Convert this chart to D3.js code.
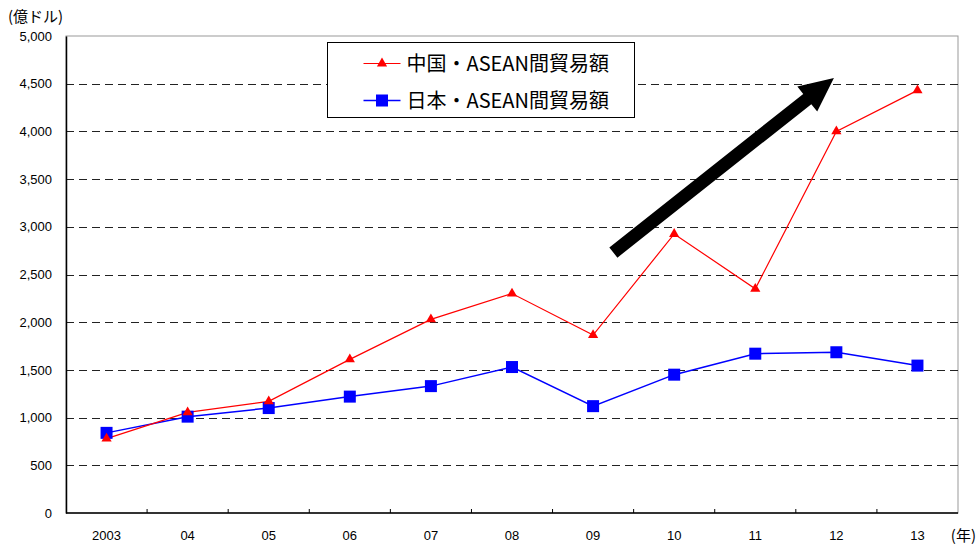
<!DOCTYPE html>
<html>
<head>
<meta charset="utf-8">
<script src="https://cdn.jsdelivr.net/npm/d3@7"></script>
<style>
  body { margin: 0; background: #fff; }
  text { font-family: "Liberation Sans", Arial, "Noto Sans CJK JP", sans-serif; }
  .jp { font-family: "Noto Sans CJK JP", sans-serif; }
</style>
</head>
<body>
<script>
// data
const years = ["2003", "04", "05", "06", "07", "08", "09", "10", "11", "12", "13"];
const chinaAsean = [780, 1055, 1170, 1610, 2030, 2300, 1865, 2925, 2350, 4000, 4430];
const japanAsean = [840, 1010, 1100, 1220, 1330, 1530, 1120, 1450, 1670, 1685, 1545];
const yTicks = [0, 500, 1000, 1500, 2000, 2500, 3000, 3500, 4000, 4500, 5000];
const seriesNames = ["中国・ASEAN間貿易額", "日本・ASEAN間貿易額"];
// trend arrow, in (category index, value) terms
const arrowFrom = { i: 6.25, v: 2730 };
const arrowTo = { i: 8.97, v: 4560 };

const width = 979, height = 546;
const margin = { top: 36, right: 21, bottom: 33, left: 66 };
const w = width - margin.left - margin.right;
const h = height - margin.top - margin.bottom;

const svg = d3.select('body').append('svg')
  .attr('width', width)
  .attr('height', height);

const g = svg.append('g')
  .attr('transform', `translate(${margin.left},${margin.top})`);

const x = d3.scaleBand().domain(years).range([0, w]);
const xi = d3.scaleLinear().domain([0, years.length]).range([0, w]); // index -> px (band edges)
const y = d3.scaleLinear().domain([0, 5000]).range([h, 0]);
const cx = i => xi(i + 0.5);

// frame (top / right in gray)
g.append('rect')
  .attr('width', w).attr('height', h)
  .attr('fill', 'none').attr('stroke', '#999').attr('stroke-width', 1);

// dashed grid
g.selectAll('.grid').data(yTicks.filter(d => d > 0 && d < 5000)).enter()
  .append('line')
  .attr('x1', 0).attr('x2', w)
  .attr('y1', d => Math.round(y(d)) + 0.5).attr('y2', d => Math.round(y(d)) + 0.5)
  .attr('stroke', '#222').attr('stroke-dasharray', '8,5');

// y axis
const yAxis = g.append('g')
  .call(d3.axisLeft(y).tickValues(yTicks).tickFormat(d3.format(',')).tickSize(0).tickPadding(14));
yAxis.select('.domain').attr('stroke', '#000').attr('stroke-width', 1.5);
yAxis.selectAll('text').attr('font-size', 13).attr('fill', '#000');

// x axis: ticks at category boundaries, pointing inward
const xAxis = g.append('g').attr('transform', `translate(0,${h})`);
xAxis.append('line').attr('x1', 0).attr('x2', w).attr('y1', 0).attr('y2', 0)
  .attr('stroke', '#000').attr('stroke-width', 1.5);
xAxis.selectAll('.tick').data(d3.range(1, years.length)).enter()
  .append('line')
  .attr('x1', d => xi(d)).attr('x2', d => xi(d))
  .attr('y1', 0).attr('y2', -4)
  .attr('stroke', '#000');
xAxis.selectAll('.lbl').data(years).enter()
  .append('text')
  .attr('x', d => x(d) + x.bandwidth() / 2)
  .attr('y', 27)
  .attr('text-anchor', 'middle')
  .attr('font-size', 13)
  .text(d => d);

// axis titles
svg.append('text').attr('class', 'jp')
  .attr('x', 8).attr('y', 22).attr('font-size', 15).text('(億ドル)');
svg.append('text').attr('class', 'jp')
  .attr('x', 976).attr('y', 541).attr('text-anchor', 'end').attr('font-size', 15).text('(年)');

// series
const line = d3.line().x((d, i) => cx(i)).y(d => y(d));

g.append('path').datum(japanAsean)
  .attr('d', line).attr('fill', 'none').attr('stroke', '#0000ff').attr('stroke-width', 1.5);
g.append('path').datum(chinaAsean)
  .attr('d', line).attr('fill', 'none').attr('stroke', '#ff0000').attr('stroke-width', 1.2);

const tri = d3.symbol().type(d3.symbolTriangle).size(45);

g.selectAll('.sq').data(japanAsean).enter()
  .append('rect')
  .attr('x', (d, i) => cx(i) - 6).attr('y', d => y(d) - 6)
  .attr('width', 12).attr('height', 12)
  .attr('fill', '#0000ff');

g.selectAll('.tri').data(chinaAsean).enter()
  .append('path')
  .attr('d', tri)
  .attr('transform', (d, i) => `translate(${cx(i)},${y(d)})`)
  .attr('fill', '#ff0000');

// trend arrow
const ax1 = cx(arrowFrom.i), ay1 = y(arrowFrom.v);
const ax2 = cx(arrowTo.i), ay2 = y(arrowTo.v);
const ang = Math.atan2(ay2 - ay1, ax2 - ax1);
const headLen = 34, headW = 16, shaftW = 6.5;
const len = Math.hypot(ax2 - ax1, ay2 - ay1);
const arrowPts = [
  [0, -shaftW], [len - headLen, -shaftW], [len - headLen, -headW],
  [len, 0],
  [len - headLen, headW], [len - headLen, shaftW], [0, shaftW]
];
g.append('polygon')
  .attr('points', arrowPts.map(p => p.join(',')).join(' '))
  .attr('transform', `translate(${ax1},${ay1}) rotate(${ang * 180 / Math.PI})`)
  .attr('fill', '#000');

// legend
const legend = svg.append('g').attr('transform', 'translate(327.5,42.5)');
legend.append('rect')
  .attr('width', 307).attr('height', 75)
  .attr('fill', '#fff').attr('stroke', '#000');

const rows = legend.selectAll('.row').data(seriesNames).enter()
  .append('g')
  .attr('transform', (d, i) => `translate(0,${21 + i * 37})`);

rows.append('line')
  .attr('x1', 36).attr('x2', 73)
  .attr('stroke', (d, i) => i === 0 ? '#ff0000' : '#0000ff')
  .attr('stroke-width', (d, i) => i === 0 ? 1.2 : 1.5);

rows.filter((d, i) => i === 0).append('path')
  .attr('d', tri).attr('transform', 'translate(54.5,0)').attr('fill', '#ff0000');
rows.filter((d, i) => i === 1).append('rect')
  .attr('x', 48.5).attr('y', -6).attr('width', 12).attr('height', 12).attr('fill', '#0000ff');

rows.append('text').attr('class', 'jp')
  .attr('x', 79).attr('y', 7)
  .attr('font-size', 20)
  .text(d => d);
</script>
</body>
</html>
